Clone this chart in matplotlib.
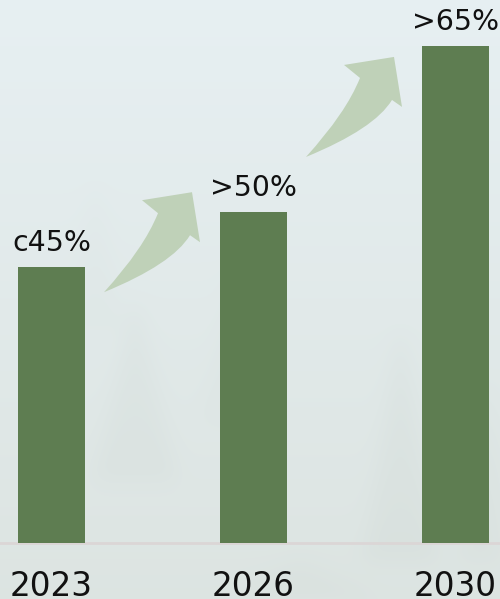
import numpy as np
import matplotlib.pyplot as plt
from matplotlib.path import Path
from matplotlib.patches import PathPatch
from matplotlib.transforms import Affine2D, ScaledTranslation

# Data
years = ['2023', '2026', '2030']
shares = [45, 54, 81.1]          # bar heights as drawn
labels = ['c45%', '>50%', '>65%']
arrow_tail_y = [40.9, 63.0]      # where each growth arrow starts

bar_color = '#5e7d51'
arrow_color = '#bfd1b8'

W, H, DPI = 500, 599, 100
fig = plt.figure(figsize=(W / DPI, H / DPI), dpi=DPI)
ax = fig.add_axes([0, 0, 1, 1])

# axis scale: 202 px per category, 6.12 px per unit, baseline at 542.5 px from top
px_x, px_y = 202.0, 6.12
x0_px, base_px = 51.5, 542.5
xlim = (-x0_px / px_x, (W - x0_px) / px_x)
ylim = (-(H - base_px) / px_y, base_px / px_y)

# foggy background
yy, xx = np.mgrid[0:H, 0:W]
top = np.array([0.905, 0.940, 0.950])
bot = np.array([0.865, 0.895, 0.885])
t = (yy / H)[..., None]
bg = top * (1 - t) + bot * t

def blur(a, s):
    k = np.exp(-0.5 * (np.arange(-3 * s, 3 * s + 1) / s) ** 2)
    k /= k.sum()
    a = np.apply_along_axis(lambda r: np.convolve(r, k, mode='same'), 0, a)
    a = np.apply_along_axis(lambda r: np.convolve(r, k, mode='same'), 1, a)
    return a

mask = np.zeros((H, W))
# faint tree silhouettes (cx, top_y, bottom_y, half width at bottom, strength)
trees = [(135, 300, 480, 40, 0.45), (400, 330, 560, 35, 0.5), (235, 260, 420, 30, 0.25),
         (95, 180, 330, 25, 0.2), (485, 380, 560, 25, 0.35), (300, 560, 599, 80, 0.3)]
for cx, ty, by, hw, s in trees:
    frac = np.clip((yy - ty) / (by - ty), 0, 1)
    inside = (np.abs(xx - cx) < hw * frac + 2) & (yy >= ty) & (yy <= by)
    mask += s * inside
mask = blur(mask, 10)
shade = np.array([0.72, 0.76, 0.73])
a = np.clip(mask, 0, 1)[..., None] * 0.22
bg = bg * (1 - a) + shade * a
ax.imshow(bg, extent=(*xlim, *ylim), origin='upper', aspect='auto', zorder=0)
ax.set_xlim(*xlim)
ax.set_ylim(*ylim)
ax.axis('off')

# baseline
ax.axhline(0, color='#dbd6d6', lw=2, zorder=1)

x = np.arange(len(years))
ax.bar(x, shares, width=67 / px_x, color=bar_color, zorder=2)

for xi, h, lab, yr in zip(x, shares, labels, years):
    ax.text(xi, h + 16 / px_y, lab, ha='center', va='baseline',
            fontsize=20.4, color='#111111', zorder=3)
    ax.text(xi, -53.5 / px_y, yr, ha='center', va='baseline',
            fontsize=23.5, color='#111111', zorder=3)

# curved arrows, shape in pixels relative to tail point (y up)
verts = [(0, 0), (68.7, 28.2), (86, 57), (96, 50), (88, 100), (38, 92),
         (54, 79), (40, 44), (0, 0), (0, 0)]
codes = [Path.MOVETO, Path.CURVE3, Path.CURVE3, Path.LINETO, Path.LINETO,
         Path.LINETO, Path.LINETO, Path.CURVE3, Path.CURVE3, Path.CLOSEPOLY]
arrow = Path(verts, codes)
for i, ty in enumerate(arrow_tail_y):
    tx = x[i] + 52.5 / px_x
    tr = ScaledTranslation(tx, ty, ax.transData)
    ax.add_patch(PathPatch(arrow, transform=Affine2D() + tr, color=arrow_color,
                           lw=0, zorder=2))

fig.savefig('out.png', dpi=DPI)
